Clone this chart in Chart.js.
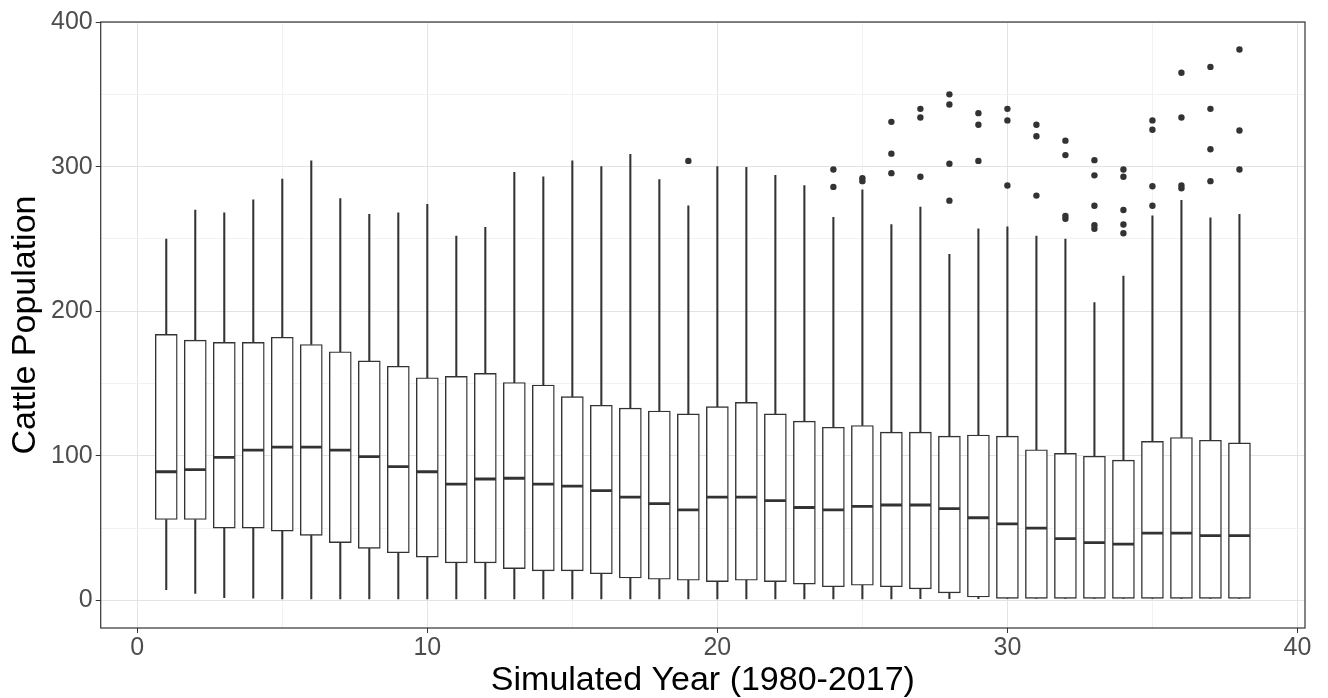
<!DOCTYPE html>
<html>
<head>
<meta charset="utf-8">
<script src="https://cdn.jsdelivr.net/npm/chart.js@4.4.0/dist/chart.umd.min.js"></script>
<style>
  html, body { margin: 0; padding: 0; background: #fff; }
  #wrap { width: 1328px; height: 698px; }
</style>
</head>
<body>
<div id="wrap"><canvas id="chart"></canvas></div>
<script>
// simulated years 1..38
const years = [1,2,3,4,5,6,7,8,9,10,11,12,13,14,15,16,17,18,19,20,21,22,23,24,25,26,27,28,29,30,31,32,33,34,35,36,37,38];

// box statistics
const whiskerLow = [7.5,4.8,2,1.5,1,1,1,1,1,1,1,1,1,1,1,1,1,1,1,1,1,1,1,1,1,1,1.2,1.2,1.2,1.4,1.4,1.4,1.4,1.4,1.4,1.4,1.4,1.4];
const q1 = [56,56,50,50,48,45,40,36,33,30,26,26,22,20.5,20.5,18.5,15.5,14.7,14,13,14,13,11.3,9.5,10.5,9.5,8,5.2,2.4,1.4,1.4,1.4,1.4,1.4,1.4,1.4,1.4,1.4];
const median = [89,90.5,99,104,106,106,104,99.5,92.5,89,80.5,84,84.5,80.5,79,76,71.5,67,62.6,71.5,71.5,69,64.3,62.6,65,66,66,63.5,57.2,53,50,42.8,40,39,46.5,46.5,44.8,44.8];
const q3 = [184,180,178.5,178.5,182,177,172,165.7,162,154,155,157,150.7,149,141,135,133,131,129,134,137,129,124,119.8,121,116.4,116.4,113.6,114.4,113.6,104.2,101.7,99.7,97,110,112.7,110.8,109];
const whiskerHigh = [250,270,268,277,291.5,304,278,267,268,274,252,258,296,293,304,300,308.5,291,273,300,299.5,294,287,265,284,260,272,239.4,257,258.4,252,250,206,224.4,266,276.8,264.6,267];

// outliers
const outlierYear = [19,24,24,25,25,26,26,26,27,27,27,28,28,28,28,29,29,29,30,30,30,31,31,31,32,32,32,32,33,33,33,33,33,34,34,34,34,34,35,35,35,35,36,36,36,36,37,37,37,37,38,38,38];
const outlierValue = [304,298,286,292,290,331,309,295.5,340,334,293,350,343,302,276.5,337,329,304,340,332,287,329,321,280,318,308,266,264,304.5,294,273,259.5,257,298,293,270,260,254,332,325.5,286.5,273,365,334,287,285,369,340,312,290,381,325,298];

const yTicks = [0,50,100,150,200,250,300,350,400];
const xTicks = [0,5,10,15,20,25,30,35,40];

const ink = "#333333";
const fontFamily = "Liberation Sans, Arial, sans-serif";

const panelBorder = {
  id: "panelBorder",
  afterDraw(chart) {
    const a = chart.chartArea;
    const ctx = chart.ctx;
    ctx.save();
    ctx.strokeStyle = ink;
    ctx.lineWidth = 1.2;
    ctx.strokeRect(a.left, a.top, a.right - a.left, a.bottom - a.top);
    ctx.restore();
  },
};

const isMajor = (ctx) => ctx.tick && ctx.tick.value % (ctx.scale.axis === "x" ? 10 : 100) === 0;
const gridColor = (ctx) => (isMajor(ctx) ? "#e3e3e3" : "#f2f2f2");
const tickMarkColor = (ctx) => (isMajor(ctx) ? ink : "rgba(0,0,0,0)");

new Chart(document.getElementById("chart"), {
  type: "bar",
  data: {
    datasets: [
      {
        label: "lower whisker",
        data: years.map((x, i) => ({ x: x, y: [whiskerLow[i], q1[i]] })),
        backgroundColor: ink,
        borderWidth: 0,
        barThickness: 1.4,
        grouped: false,
        order: 3,
      },
      {
        label: "upper whisker",
        data: years.map((x, i) => ({ x: x, y: [q3[i], whiskerHigh[i]] })),
        backgroundColor: ink,
        borderWidth: 0,
        barThickness: 1.4,
        grouped: false,
        order: 3,
      },
      {
        label: "box",
        data: years.map((x, i) => ({ x: x, y: [q1[i], q3[i]] })),
        backgroundColor: "#ffffff",
        borderColor: ink,
        borderWidth: 1.4,
        borderSkipped: false,
        barThickness: 22,
        grouped: false,
        order: 2,
      },
      {
        type: "scatter",
        label: "median",
        data: years.map((x, i) => ({ x: x, y: median[i] })),
        pointStyle: "line",
        radius: 10.5,
        borderColor: ink,
        borderWidth: 2.8,
        order: 1,
      },
      {
        type: "scatter",
        label: "outliers",
        data: outlierYear.map((x, i) => ({ x: x, y: outlierValue[i] })),
        pointStyle: "circle",
        radius: 3.2,
        backgroundColor: ink,
        borderColor: ink,
        borderWidth: 0,
        order: 0,
      },
    ],
  },
  options: {
    responsive: true,
    maintainAspectRatio: false,
    animation: false,
    events: [],
    layout: { padding: { top: 22, right: 23, bottom: 0, left: 9 } },
    scales: {
      x: {
        type: "linear",
        offset: false,
        min: -1.26,
        max: 40.26,
        afterBuildTicks: (scale) => {
          scale.ticks = xTicks.map((v) => ({ value: v }));
        },
        grid: { offset: false, color: gridColor, tickColor: tickMarkColor, tickLength: 5, lineWidth: 1 },
        border: { display: false },
        ticks: {
          color: "#4d4d4d",
          font: { family: fontFamily, size: 25, lineHeight: 1 },
          padding: 3,
          maxRotation: 0,
          callback: (v) => (v % 10 === 0 ? v : ""),
        },
        title: {
          display: true,
          text: "Simulated Year (1980-2017)",
          color: "#000000",
          font: { family: fontFamily, size: 34, lineHeight: 1 },
          padding: { top: 0, bottom: 0 },
        },
      },
      y: {
        type: "linear",
        min: -19.05,
        max: 400.05,
        afterBuildTicks: (scale) => {
          scale.ticks = yTicks.map((v) => ({ value: v }));
        },
        grid: { color: gridColor, tickColor: tickMarkColor, tickLength: 5, lineWidth: 1 },
        border: { display: false },
        ticks: {
          color: "#4d4d4d",
          font: { family: fontFamily, size: 25, lineHeight: 1 },
          padding: 3,
          callback: (v) => (v % 100 === 0 ? v : ""),
        },
        title: {
          display: true,
          text: "Cattle Population",
          color: "#000000",
          font: { family: fontFamily, size: 34, lineHeight: 1 },
          padding: { top: 0, bottom: 5 },
        },
      },
    },
    plugins: {
      legend: { display: false },
      tooltip: { enabled: false },
    },
  },
  plugins: [panelBorder],
});
</script>
</body>
</html>
